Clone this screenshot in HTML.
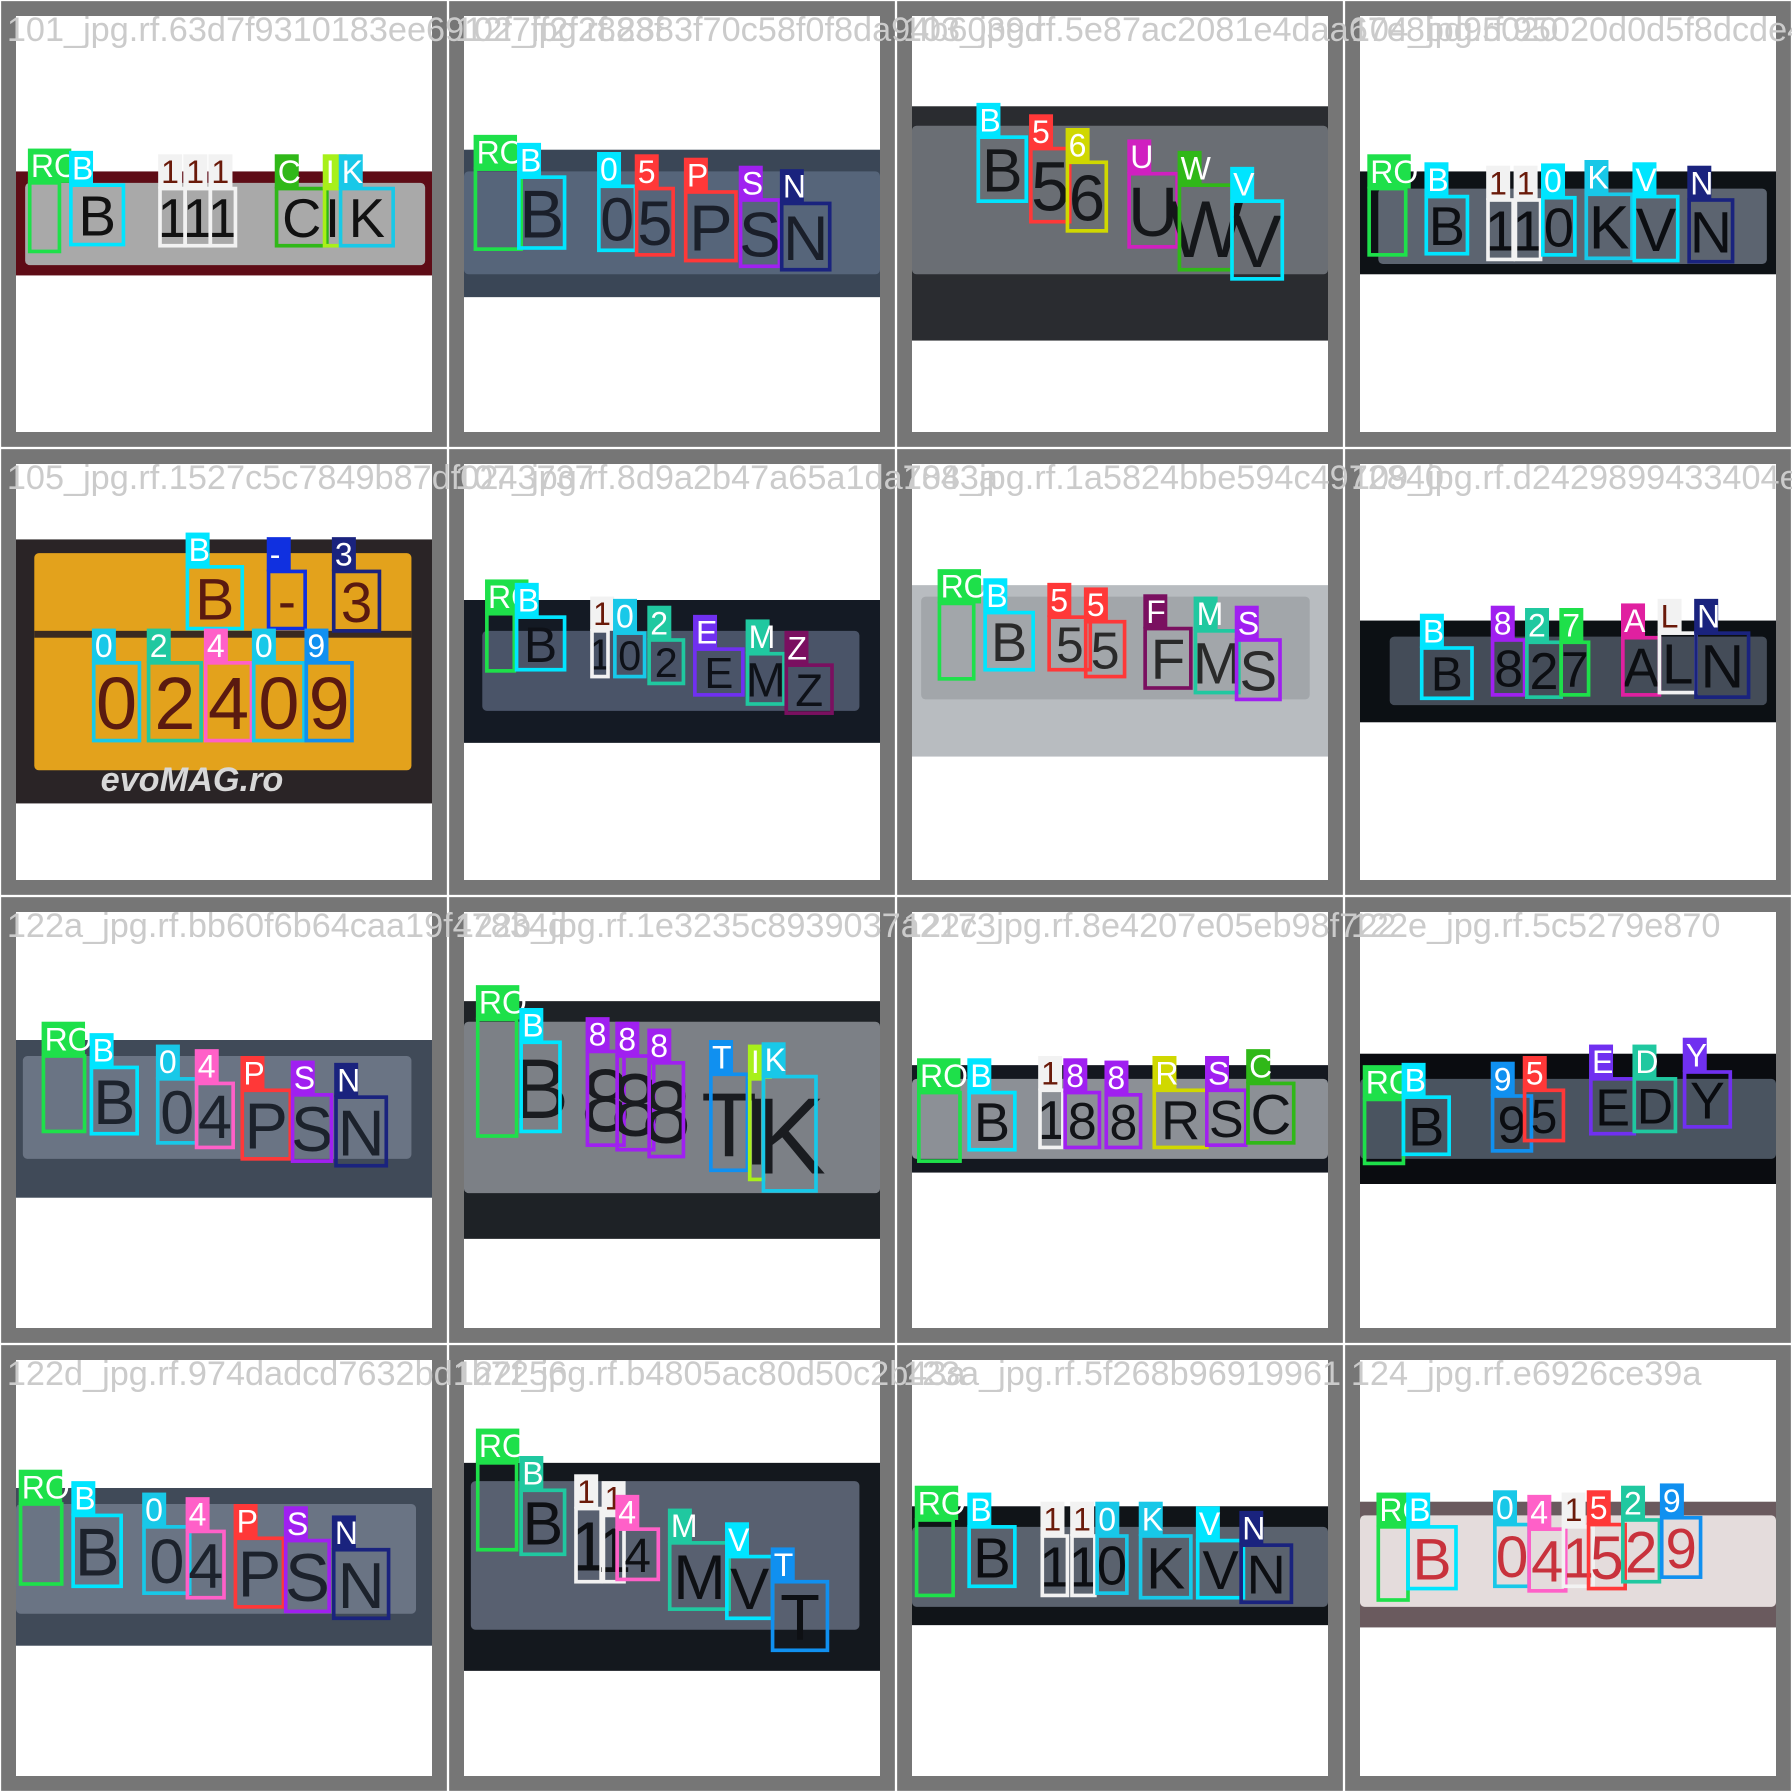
<!DOCTYPE html>
<html><head><meta charset="utf-8"><style>
html,body{margin:0;padding:0;background:#fff;}
svg{display:block;}
</style></head><body>
<svg id="mosaic" xmlns="http://www.w3.org/2000/svg" width="1792" height="1792" viewBox="0 0 1568 1568"></svg>
<script>
const titles = [
"101_jpg.rf.63d7f9310183ee6912f7ff2f2883f","102_jpg.rf.2883f70c58f0f8da94b6039d","103_jpg.rf.5e87ac2081e4daa67e8bd95020","104_jpg.rf.95020d0d5f8dcde4cff80",
"105_jpg.rf.1527c5c7849b87df0243737","107_jpg.rf.8d9a2b47a65a1da7843a","108_jpg.rf.1a5824bbe594c4972840","109_jpg.rf.d2429899433404e65",
"122a_jpg.rf.bb60f6b64caa19f47834d","122b_jpg.rf.1e3235c8939037a2173","122c_jpg.rf.8e4207e05eb98f722","122e_jpg.rf.5c5279e870",
"122d_jpg.rf.974dadcd7632bd1b7256","122f_jpg.rf.b4805ac80d50c2b43a","123a_jpg.rf.5f268b96919961","124_jpg.rf.e6926ce39a"
];
const bands = [
 {y:150,h:91,c:"#5e0c16",px:22,py:160,pw:350,ph:72,pc:"#a9a9a9",tc:"#111"},
 {y:131,h:129,c:"#3a4656",px:14,py:150,pw:364,ph:90,pc:"#56657a",tc:"#1a1f2a"},
 {y:93,h:205,c:"#2a2c30",px:14,py:110,pw:364,ph:130,pc:"#6a6e74",tc:"#15171a"},
 {y:150,h:90,c:"#0e1216",px:30,py:165,pw:340,ph:66,pc:"#5c6470",tc:"#0c0e12"},
 {y:80,h:231,c:"#2a2426",px:30,py:92,pw:330,ph:190,pc:"#e3a21c",tc:"#5a1a10"},
 {y:133,h:125,c:"#141a24",px:30,py:160,pw:330,ph:70,pc:"#4a5468",tc:"#0e1118"},
 {y:120,h:150,c:"#b8bcc0",px:22,py:130,pw:340,ph:90,pc:"#a2a6aa",tc:"#2a2a2a"},
 {y:151,h:89,c:"#0c1014",px:40,py:165,pw:330,ph:60,pc:"#444c58",tc:"#0c0e12"},
 {y:126,h:138,c:"#404a58",px:20,py:140,pw:340,ph:90,pc:"#6a7484",tc:"#1c222c"},
 {y:92,h:208,c:"#1e2226",px:14,py:110,pw:364,ph:150,pc:"#7c8086",tc:"#1a1c20"},
 {y:148,h:94,c:"#141820",px:14,py:160,pw:364,ph:70,pc:"#8c9096",tc:"#121418"},
 {y:138,h:114,c:"#0a0c10",px:14,py:160,pw:364,ph:70,pc:"#4a5460",tc:"#0a0c10"},
 {y:126,h:138,c:"#404a58",px:14,py:140,pw:350,ph:96,pc:"#6a7484",tc:"#1c222c"},
 {y:104,h:182,c:"#14181e",px:20,py:120,pw:340,ph:130,pc:"#586070",tc:"#0e1014"},
 {y:142,h:104,c:"#101418",px:14,py:160,pw:364,ph:70,pc:"#5a626e",tc:"#0c0e12"},
 {y:138,h:110,c:"#6a5a5e",px:14,py:150,pw:364,ph:80,pc:"#e4dcdc",tc:"#c8323c"}
];
const G="#1ee04a",CY="#00e5ff",CY2="#18c8e8",W="#f2f2f2",R="#ff3838",PU="#a020f0",NV="#1a237e",PK="#ff60c8",TL="#20c8a0",BL="#1090f0",YG="#a8f01a",YL="#d0d800",MG="#d020c0",DG="#30b818",VI="#7030f0",DM="#7a1060";
const boxes = [
 [["RO",26,160,26,60,G],["B",62,162,46,52,CY],["1",140,165,22,50,W],["1",162,165,22,50,W],["1",184,165,22,50,W],["C",242,165,44,50,DG],["I",284,165,14,50,YG],["K",298,165,46,50,CY2]],
 [["RO",24,148,40,70,G],["B",62,155,40,62,CY],["0",132,163,32,56,CY],["5",165,165,32,58,R],["P",208,168,44,60,R],["S",256,175,34,58,PU],["N",292,178,42,58,NV]],
 [["B",72,120,42,56,CY],["5",118,130,34,64,R],["6",150,142,34,60,YL],["U",204,152,42,64,MG],["W",248,162,46,74,DG],["V",294,176,44,68,CY]],
 [["RO",22,165,32,58,G],["B",72,172,36,50,CY],["1",126,175,22,52,W],["1",150,175,22,52,W],["0",174,173,28,50,CY],["K",212,170,40,56,CY2],["V",254,172,38,56,CY],["N",302,175,38,54,NV]],
 [["B",164,104,48,54,CY],["-",235,108,32,50,"#1030e0"],["3",292,108,40,52,NV],["0",82,188,40,68,CY2],["2",130,188,46,68,TL],["4",180,188,40,68,PK],["0",222,188,44,68,CY2],["9",268,188,40,68,BL]],
 [["RO",34,145,24,50,G],["B",60,148,42,46,CY],["1",126,160,14,40,W],["0",146,162,26,38,CY2],["2",176,168,30,38,TL],["E",216,176,42,40,VI],["M",262,180,32,44,TL],["Z",296,190,40,42,DM]],
 [["RO",38,136,30,66,G],["B",78,144,42,50,CY],["5",134,148,36,46,R],["5",166,152,34,48,R],["F",218,158,40,52,DM],["M",262,160,38,54,TL],["S",298,168,38,52,PU]],
 [["B",68,175,44,44,CY],["8",130,168,28,48,PU],["2",160,170,30,48,TL],["7",190,170,24,46,G],["A",244,166,32,50,"#e020a0"],["L",276,162,32,52,W],["N",308,162,46,56,NV]],
 [["RO",38,140,36,66,G],["B",80,150,40,58,CY],["0",138,160,34,56,CY2],["4",172,164,32,56,PK],["P",212,170,42,60,R],["S",256,174,34,58,PU],["N",294,176,44,60,NV]],
 [["RO",26,108,34,102,G],["B",64,128,34,78,CY],["8",122,136,32,82,PU],["8",148,140,32,82,PU],["8",176,146,30,82,PU],["T",230,156,32,84,BL],["I",264,160,12,88,YG],["K",276,158,46,100,CY2]],
 [["RO",20,172,36,60,G],["B",64,172,40,50,CY],["1",126,170,20,50,W],["8",148,172,30,48,PU],["8",184,174,30,46,PU],["R",226,170,46,50,YL],["S",272,170,34,48,PU],["C",308,164,40,52,DG]],
 [["RO",18,178,34,56,G],["B",52,176,40,50,CY],["9",130,175,34,48,BL],["5",158,170,34,44,R],["E",216,160,38,48,VI],["D",254,160,36,46,TL],["Y",298,154,40,48,VI]],
 [["RO",18,140,36,70,G],["B",64,150,42,62,CY],["0",126,160,40,58,CY2],["4",164,164,32,58,PK],["P",206,170,42,60,R],["S",250,172,38,62,PU],["N",292,180,48,60,NV]],
 [["RO",26,104,34,76,G],["B",64,128,38,56,TL],["1",112,144,22,64,W],["1",136,150,18,58,W],["4",148,162,36,44,PK],["M",194,174,52,58,TL],["V",244,186,40,54,CY],["T",284,208,48,60,BL]],
 [["RO",18,154,32,66,G],["B",64,160,40,52,CY],["1",128,168,22,52,W],["1",154,168,20,52,W],["0",176,168,26,50,CY2],["K",214,168,44,54,CY2],["V",264,172,40,50,CY],["N",302,176,44,50,NV]],
 [["RO",30,160,26,64,G],["B",56,160,42,54,CY],["0",132,158,30,54,CY2],["4",162,162,32,54,PK],["1",192,160,26,52,W],["5",214,158,32,56,R],["2",244,154,32,54,TL],["9",278,152,34,52,BL]]
];
const NS="http://www.w3.org/2000/svg";
const svg=document.getElementById('mosaic');
function mk(tag,attrs,parent){const e=document.createElementNS(NS,tag);for(const k in attrs)e.setAttribute(k,attrs[k]);(parent||svg).appendChild(e);return e;}
for(let i=0;i<16;i++){
  const cx=(i%4)*392, cy=Math.floor(i/4)*392;
  const g=mk('g',{transform:`translate(${cx},${cy})`});
  
  
  const fr=mk('rect',{x:1,y:1,width:390,height:390,fill:'#767676'},g);
  
  
  mk('rect',{x:14,y:14,width:364,height:364,fill:'#ffffff'},g);
  const b=bands[i];
  const band=mk('rect',{x:14,y:b.y,width:364,height:b.h,fill:b.c},g);
  
  
  mk('rect',{x:b.px,y:b.py,width:b.pw,height:b.ph,fill:b.pc,rx:4},g);
  if(i===4){
    mk('rect',{x:b.px,y:160,width:b.pw,height:6,fill:'#3a2a20'},g);
    const ev=mk('text',{x:88,y:300,'font-family':'Liberation Sans, sans-serif','font-size':30,'font-weight':'bold','font-style':'italic',fill:'#d8d8d8'},g);
    ev.textContent='evoMAG.ro';
    
    
  }
  for(const bx of boxes[i]){
    const [lab,x,y,w,h,col]=bx;
    const ch=mk('text',{x:x+w/2,y:y+h*0.85,'text-anchor':'middle','font-family':'Liberation Sans, sans-serif','font-size':h*0.95,fill:b.tc},g);
    ch.textContent=lab==='RO'?'':lab;
    const r=mk('rect',{x:x,y:y,width:w,height:h,fill:'none',stroke:col,'stroke-width':3.2},g);
    
    
    const lw=lab.length*17+4;
    mk('rect',{x:x-1.6,y:y-30,width:lw,height:30,fill:col},g);
    const t=mk('text',{x:x+1,y:y-5,'font-family':'Liberation Sans, sans-serif','font-size':28,fill:col===W?'#6a1a0a':'#ffffff'},g);
    t.textContent=lab;
    
    
  }
}
for(let i=0;i<16;i++){
  const cx=(i%4)*392, cy=Math.floor(i/4)*392;
  const t=mk('text',{x:cx+6,y:cy+36,'font-family':'Liberation Sans, sans-serif','font-size':30,fill:'#cbcbcb'});
  t.textContent=titles[i];
  
  
}
</script>
</body></html>
